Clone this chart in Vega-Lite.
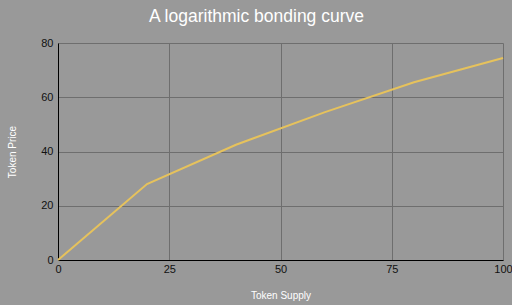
{
  "$schema": "https://vega.github.io/schema/vega-lite/v6.json",
  "autosize": "none",
  "width": 445,
  "height": 217,
  "padding": {"left": 58, "top": 43, "right": 9, "bottom": 45},
  "background": "#999999",
  "config": {"view": {"stroke": null}, "font": "Liberation Sans"},
  "title": {
    "text": "A logarithmic bonding curve",
    "color": "#ffffff",
    "fontSize": 17.5,
    "fontWeight": "normal",
    "anchor": "middle",
    "dx": -24,
    "offset": 12
  },
  "data": {
    "values": [
      {"supply": 0, "price": 0},
      {"supply": 20, "price": 28},
      {"supply": 40, "price": 42.5},
      {"supply": 60, "price": 54.5},
      {"supply": 80, "price": 65.5},
      {"supply": 100, "price": 74.5}
    ]
  },
  "mark": {"type": "line", "color": "#e6c25c", "strokeWidth": 2},
  "encoding": {
    "x": {
      "field": "supply",
      "type": "quantitative",
      "scale": {"domain": [0, 100], "nice": false},
      "axis": {
        "title": "Token Supply",
        "titleColor": "#ffffff",
        "titleFontSize": 10,
        "titleFontWeight": "normal",
        "titlePadding": 16,
        "values": [0, 25, 50, 75, 100],
        "labelColor": "#111111",
        "labelFontSize": 11,
        "labelPadding": 3,
        "labelFlush": false,
        "ticks": false,
        "domainColor": "#000000",
        "domainWidth": 1,
        "gridColor": "#6e6e6e",
        "gridWidth": 1,
        "gridOpacity": 1
      }
    },
    "y": {
      "field": "price",
      "type": "quantitative",
      "scale": {"domain": [0, 80], "nice": false},
      "axis": {
        "title": "Token Price",
        "titleColor": "#ffffff",
        "titleFontSize": 10,
        "titleFontWeight": "normal",
        "titlePadding": 23,
        "values": [0, 20, 40, 60, 80],
        "labelColor": "#111111",
        "labelFontSize": 11,
        "labelPadding": 5,
        "labelFlush": false,
        "ticks": false,
        "domainColor": "#000000",
        "domainWidth": 1,
        "gridColor": "#6e6e6e",
        "gridWidth": 1,
        "gridOpacity": 1
      }
    }
  }
}
